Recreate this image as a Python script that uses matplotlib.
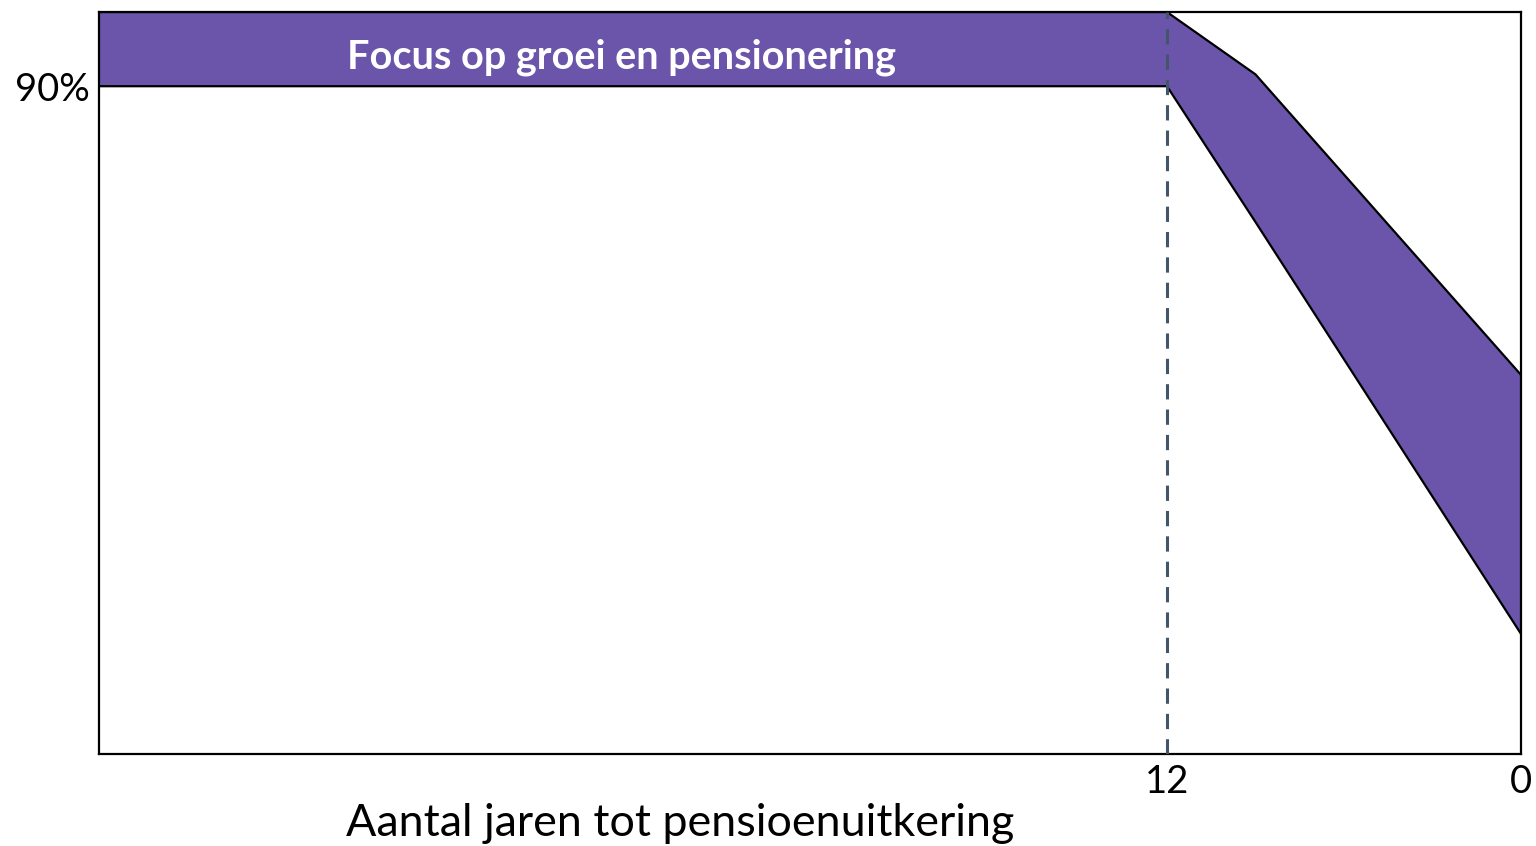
import matplotlib
matplotlib.use("Agg")
import matplotlib.pyplot as plt

# years to retirement (x axis runs from 48 down to 0)
years = [48.2, 12, 9, 0]
upper = [100, 100, 91.6, 51.1]
lower = [90, 90, 71.7, 16.2]

x_ticks = [12, 0]
x_tick_labels = ["12", "0"]
y_ticks = [90]
y_tick_labels = ["90%"]

band_label = "Focus op groei en pensionering"
x_label = "Aantal jaren tot pensioenuitkering"

purple = "#6A55AB"
dash_col = "#44546A"

plt.rcParams['font.family'] = ['Lato', 'DejaVu Sans']

fig = plt.figure(figsize=(15.36, 8.46), dpi=100)
ax = fig.add_axes([0.0645, 0.1087, 0.9257, 0.8771])

ax.fill_between(years, lower, upper, color=purple, linewidth=0, zorder=2)
ax.plot(years, upper, color="black", linewidth=1.6, zorder=3)
ax.plot(years, lower, color="black", linewidth=1.6, zorder=3)

# dashed marker at 12 years
ax.plot([12, 12], [0, 100], color=dash_col, linewidth=2.2,
        linestyle=(0, (5, 3.3)), zorder=4)

ax.text(39.8, 93.9, band_label, color="white", fontsize=28.5, fontweight="bold",
        ha="left", va="center", zorder=5)

ax.set_xlim(48.2, 0)
ax.set_ylim(0, 100)
ax.set_xticks(x_ticks)
ax.set_xticklabels(x_tick_labels, fontsize=27.5)
ax.set_yticks(y_ticks)
ax.set_yticklabels(y_tick_labels, fontsize=27.5)
ax.tick_params(length=0, pad=7)
ax.set_xlabel(x_label, fontsize=32.3)
ax.xaxis.set_label_coords(0.409, -0.066)

for s in ax.spines.values():
    s.set_linewidth(1.6)
    s.set_color("black")

fig.savefig("out.png", dpi=100)
